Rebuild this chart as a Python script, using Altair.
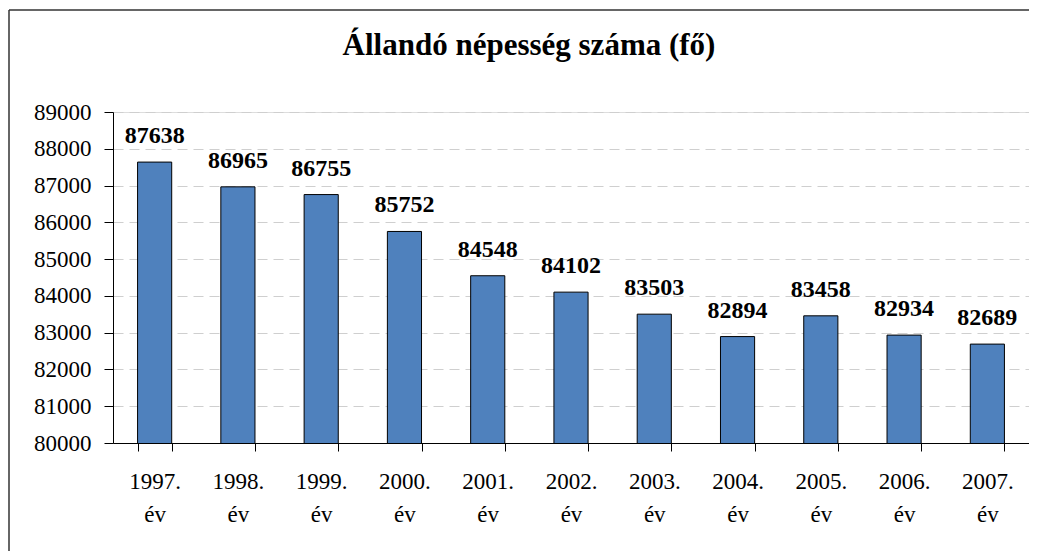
import altair as alt
import pandas as pd

years = ["1997.", "1998.", "1999.", "2000.", "2001.", "2002.", "2003.", "2004.", "2005.", "2006.", "2007."]
values = [87638, 86965, 86755, 85752, 84548, 84102, 83503, 82894, 83458, 82934, 82689]
title_text = "Állandó népesség száma (fő)"

df = pd.DataFrame({"year": [y + " év" for y in years], "value": values})

FONT = "Liberation Serif"

x_enc = alt.X(
    "year:N",
    sort=None,
    title=None,
    scale=alt.Scale(paddingInner=0.59, paddingOuter=0.295),
    axis=alt.Axis(
        labelExpr="split(datum.label, ' ')",
        labelAngle=0,
        labelFont=FONT,
        labelFontSize=23,
        labelColor="black",
        labelLineHeight=33,
        labelPadding=19,
        labelBaseline="top",
        tickBand="extent",
        tickSize=8,
        tickColor="black",
        domainColor="black",
        grid=False,
    ),
)
y_enc = alt.Y(
    "value:Q",
    title=None,
    scale=alt.Scale(domain=[80000, 89000], nice=False, zero=False),
    axis=alt.Axis(
        values=list(range(80000, 90000, 1000)),
        format="d",
        labelFont=FONT,
        labelFontSize=23,
        labelColor="black",
        labelPadding=13,
        labelOverlap=False,
        tickSize=9,
        tickColor="black",
        domainColor="black",
        grid=True,
        gridColor="#cfcfcf",
        gridDash=[10, 6],
        gridWidth=1,
    ),
)

base = alt.Chart(df)
bars = base.mark_bar(color="#4F81BD", stroke="black", strokeWidth=1, clip=True).encode(
    x=x_enc, y=y_enc
)
labels = base.mark_text(
    font=FONT, fontSize=24, fontWeight="bold", color="black", baseline="alphabetic", dy=-19
).encode(
    x=x_enc,
    y=y_enc,
    text=alt.Text("value:Q", format="d"),
)

single = alt.Data(values=[{"t": title_text}])
title_mark = alt.Chart(single).mark_text(
    font=FONT, fontSize=31, fontWeight="bold", color="black", baseline="alphabetic", align="center"
).encode(x=alt.value(416), y=alt.value(-57), text="t:N")

left_line = alt.Chart(single).mark_rule(color="#333333", strokeWidth=1.5).encode(
    x=alt.value(-104), y=alt.value(-102), y2=alt.value(460)
)
top_line = alt.Chart(single).mark_rule(color="#333333", strokeWidth=1.5).encode(
    x=alt.value(-104), x2=alt.value(940), y=alt.value(-102)
)

chart = (
    alt.layer(bars, labels, title_mark, left_line, top_line)
    .properties(
        width=916,
        height=331,
        padding={"left": 105, "top": 104, "right": 0, "bottom": 108},
        autosize=alt.AutoSizeParams(type="none"),
    )
    .configure_view(stroke=None)
    .configure(background="white")
)

chart.save("out.html", embed_options={"renderer": "svg", "actions": False})
